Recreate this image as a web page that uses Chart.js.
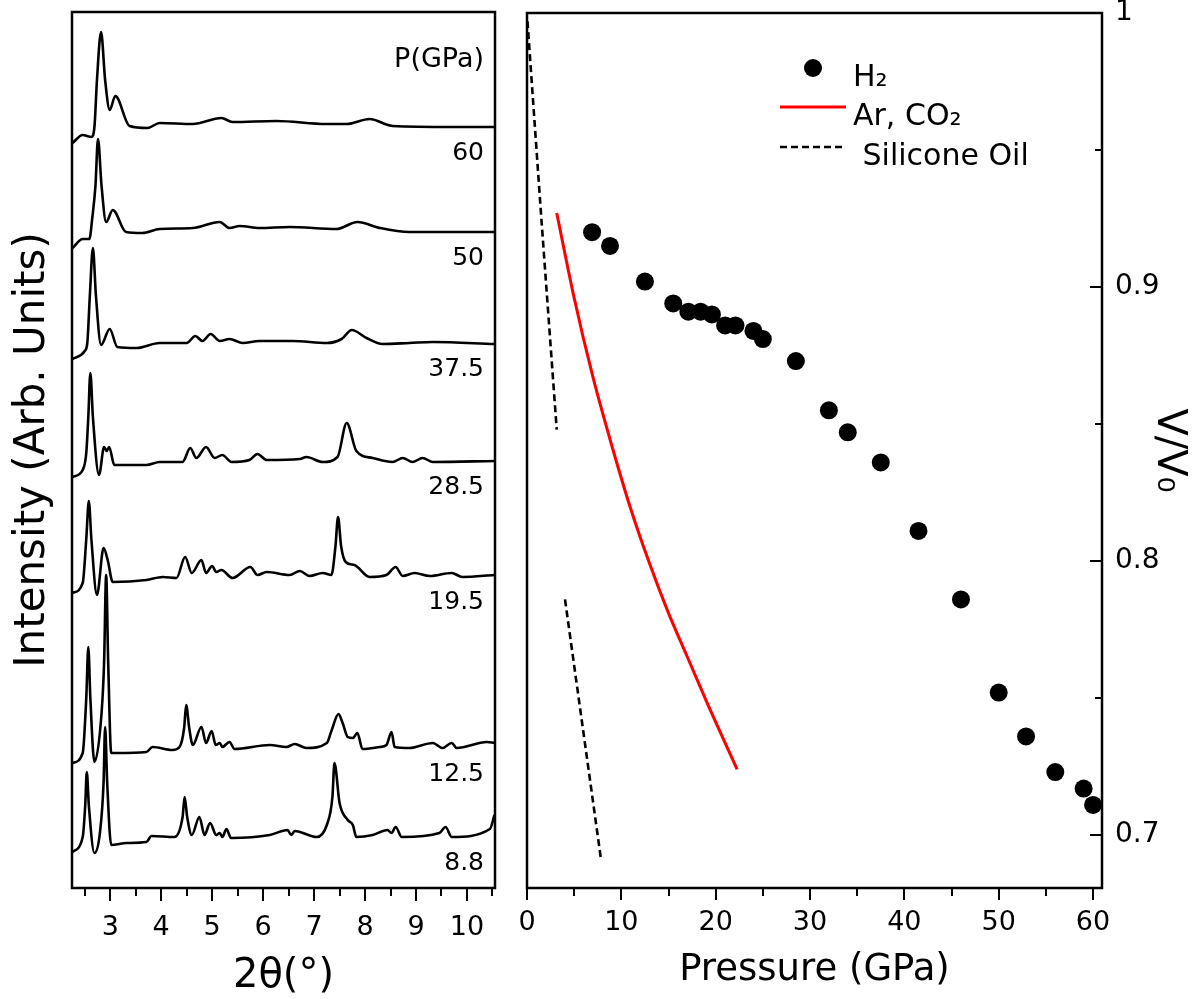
<!DOCTYPE html>
<html lang="en">

<head>
  <meta charset="UTF-8">
  <meta name="viewport" content="width=device-width, initial-scale=1.0">
  <script src="https://cdn.jsdelivr.net/npm/chart.js@4.4.0/dist/chart.umd.min.js"></script>
  <title>XRD patterns and V/V0 vs pressure</title>
  <style>
    body { margin: 0; background: #fff; }
    #wrap { position: relative; width: 1192px; height: 999px; }
    #xrdChart { position: absolute; left: 0; top: 0; }
    #eosChart { position: absolute; left: 510px; top: 0; }
  </style>
</head>

<body>
  <div id="wrap">
    <canvas id="xrdChart" width="510" height="999"></canvas>
    <canvas id="eosChart" width="682" height="999"></canvas>
  </div>
  <script>
    // ---- left panel: XRD patterns, [2theta, intensity above the trace baseline]
    const pressureLabels = ['60', '50', '37.5', '28.5', '19.5', '12.5', '8.8']
    const baselines = [761, 656, 545, 427, 312, 140, 51]
    const twoThetaTicks = [3, 4, 5, 6, 7, 8, 9, 10]

    const xrd60 = [[2.26, -16], [2.46, -8], [2.63, -10], [2.69, 0], [2.74, 47], [2.82, 95], [2.90, 47], [2.99, 17], [3.10, 31], [3.38, 1], [3.73, -1], [3.97, 4], [4.62, 3], [5.18, 9], [5.40, 5], [6.26, 6], [7.24, 3], [7.64, 3], [8.09, 8], [8.54, 1], [9.72, 0], [10.54, 0]]
    const xrd50 = [[2.26, -16], [2.46, -7], [2.59, -7], [2.65, 15], [2.71, 46], [2.76, 93], [2.83, 46], [2.92, 10], [3.05, 22], [3.31, 0], [3.63, -1], [3.97, 3], [4.62, 4], [5.15, 10], [5.34, 4], [5.54, 6], [5.93, 4], [6.52, 5], [7.44, 3], [7.85, 10], [8.29, 4], [8.87, 0], [10.54, 0]]
    const xrd375 = [[2.26, -16], [2.50, -8], [2.55, 0], [2.60, 47], [2.66, 95], [2.72, 47], [2.82, -2], [2.99, 14], [3.14, -4], [3.52, -5], [3.97, 0], [4.50, 0], [4.67, 7], [4.81, 2], [4.97, 9], [5.15, 2], [5.34, 4], [5.60, 0], [5.93, 2], [6.58, 2], [7.25, 0], [7.54, 4], [7.74, 13], [8.03, 5], [8.34, -1], [8.87, 0], [9.33, 1], [10.54, -1]]
    const xrd285 = [[2.26, -16], [2.46, -9], [2.53, 8], [2.57, 44], [2.61, 88], [2.66, 44], [2.78, -14], [2.88, 14], [2.93, 10], [2.98, 14], [3.08, -4], [3.71, -4], [3.97, -1], [4.42, -1], [4.57, 13], [4.69, 3], [4.88, 14], [5.05, 3], [5.20, 6], [5.38, -1], [5.73, 1], [5.89, 7], [6.07, 1], [6.72, 2], [6.85, 4], [7.17, -1], [7.46, 4], [7.64, 38], [7.83, 10], [8.15, 3], [8.54, -1], [8.74, 3], [8.93, -1], [9.13, 3], [9.33, -1], [10.54, 0]]
    const xrd195 = [[2.26, -17], [2.46, -7], [2.53, 37], [2.58, 75], [2.63, 37], [2.74, -19], [2.87, 28], [2.95, 16], [3.05, -6], [3.71, -4], [4.03, -1], [4.30, -2], [4.47, 19], [4.60, 3], [4.79, 16], [4.88, 3], [5.00, 10], [5.08, 4], [5.18, 6], [5.40, -2], [5.75, 9], [5.89, 1], [6.07, 4], [6.52, 1], [6.72, 5], [6.91, 0], [7.17, 3], [7.34, 1], [7.42, 30], [7.47, 59], [7.53, 30], [7.62, 14], [7.79, 11], [8.09, -1], [8.42, 1], [8.60, 9], [8.74, 0], [8.97, 3], [9.27, 0], [9.70, 3], [9.91, -1], [10.54, 1]]
    const xrd125 = [[2.26, -15], [2.46, -5], [2.53, 50], [2.57, 101], [2.61, 50], [2.69, -14], [2.83, 35], [2.88, 86], [2.92, 173], [2.96, 86], [3.02, -5], [3.12, -5], [3.71, -4], [3.83, 1], [4.22, -2], [4.36, 1], [4.45, 20], [4.49, 43], [4.55, 20], [4.62, 3], [4.79, 21], [4.88, 5], [4.99, 17], [5.07, 3], [5.15, 5], [5.20, 1], [5.34, 6], [5.44, -1], [6.13, 3], [6.46, 1], [6.62, 4], [6.85, 0], [7.25, 5], [7.34, 17], [7.48, 34], [7.56, 25], [7.66, 11], [7.76, 10], [7.85, 15], [7.95, -1], [8.29, 1], [8.42, 3], [8.52, 16], [8.58, 1], [8.87, 0], [9.33, 5], [9.52, 0], [9.70, 5], [9.80, 0], [10.39, 6], [10.54, 5]]
    const xrd88 = [[2.26, -15], [2.46, 0], [2.51, 32], [2.54, 65], [2.58, 32], [2.69, -16], [2.80, 5], [2.87, 55], [2.90, 110], [2.94, 55], [3.02, -8], [3.32, -6], [3.71, -5], [3.81, 1], [4.26, 0], [4.42, 20], [4.46, 40], [4.51, 20], [4.60, 2], [4.75, 20], [4.85, 2], [4.96, 14], [5.08, 2], [5.15, 4], [5.20, 0], [5.28, 8], [5.37, -1], [6.13, 2], [6.48, 7], [6.55, 2], [6.62, 6], [7.05, 0], [7.25, 12], [7.36, 40], [7.40, 74], [7.50, 34], [7.66, 17], [7.76, 12], [7.83, 0], [8.15, 2], [8.44, 7], [8.52, 4], [8.60, 10], [8.72, 0], [9.46, 4], [9.58, 10], [9.70, 0], [10.45, 8], [10.54, 22]]
    const xrdPatterns = [xrd60, xrd50, xrd375, xrd285, xrd195, xrd125, xrd88]

    // ---- right panel: V/V0 vs pressure
    const pressureH2 = [6.9, 8.8, 12.5, 15.5, 17.1, 18.4, 19.6, 21.0, 22.1, 24.0, 25.0, 28.5, 32.0, 34.0, 37.5, 41.5, 46.0, 50.0, 52.9, 56.0, 59.0, 60.0]
    const volumeH2 = [0.920, 0.915, 0.902, 0.894, 0.891, 0.891, 0.890, 0.886, 0.886, 0.884, 0.881, 0.873, 0.855, 0.847, 0.836, 0.811, 0.786, 0.752, 0.736, 0.723, 0.717, 0.711]
    const pressureArCO2 = [3.15, 5, 7, 9, 11, 13, 15, 17, 19, 22.27]
    const volumeArCO2 = [0.927, 0.896, 0.867, 0.842, 0.819, 0.799, 0.781, 0.765, 0.749, 0.724]
    const pressureOil = [0.05, 1.5, 3.15, 3.6, 4.03, 7.85]
    const volumeOil = [0.997, 0.926, 0.848, null, 0.786, 0.691]
    const pressureTicks = [0, 10, 20, 30, 40, 50, 60]
    const volumeTicks = [0.7, 0.8, 0.9, 1]

    const FONT = 'DejaVu Sans'

    // frame around the plot area plus major / minor tick marks
    const tickMarks = {
      id: 'tickMarks',
      afterDraw(chart, args, opts) {
        const { ctx, chartArea } = chart
        ctx.save()
        ctx.strokeStyle = '#000'
        ctx.lineWidth = 2
        ctx.beginPath()
        opts.sets.forEach(s => {
          const scale = chart.scales[s.axis]
          for (let v = s.from; v <= s.to + 1e-6; v += s.step) {
            const p = Math.round(scale.getPixelForValue(v))
            if (s.side === 'bottom') {
              ctx.moveTo(p, chartArea.bottom)
              ctx.lineTo(p, chartArea.bottom + s.len)
            } else {
              ctx.moveTo(chartArea.right, p)
              ctx.lineTo(chartArea.right - s.len, p)
            }
          }
        })
        ctx.stroke()
        ctx.lineWidth = 2.5
        ctx.strokeRect(chartArea.left, chartArea.top, chartArea.right - chartArea.left, chartArea.bottom - chartArea.top)
        ctx.restore()
      }
    }

    // pressure written under the right end of each pattern
    const traceLabels = {
      id: 'traceLabels',
      afterDatasetsDraw(chart, args, opts) {
        const { ctx, chartArea, scales } = chart
        ctx.save()
        ctx.fillStyle = '#000'
        ctx.textAlign = 'right'
        ctx.textBaseline = 'middle'
        ctx.font = opts.font
        opts.labels.forEach((t, i) => {
          ctx.fillText(t, chartArea.right + opts.dx, scales.y.getPixelForValue(opts.baselines[i]) + opts.dy)
        })
        ctx.font = opts.titleFont
        ctx.fillText(opts.title, chartArea.right + opts.dx, chartArea.top + opts.titleDy)
        ctx.restore()
      }
    }

    // legend sitting inside the plot area
    const insetLegend = {
      id: 'insetLegend',
      afterDraw(chart, args, opts) {
        const { ctx, chartArea } = chart
        ctx.save()
        ctx.font = opts.font
        chart.data.datasets.forEach((ds, i) => {
          const y = chartArea.top + opts.rows[i]
          const x0 = chartArea.left + opts.symbolLeft
          const x1 = x0 + opts.symbolWidth
          ctx.save()
          if (ds.showLine === false) {
            ctx.fillStyle = ds.backgroundColor
            ctx.beginPath()
            ctx.arc((x0 + x1) / 2, y, ds.pointRadius, 0, Math.PI * 2)
            ctx.fill()
          } else {
            ctx.strokeStyle = ds.borderColor
            ctx.lineWidth = ds.borderWidth
            ctx.setLineDash(ds.borderDash || [])
            ctx.beginPath()
            ctx.moveTo(x0, y)
            ctx.lineTo(x1, y)
            ctx.stroke()
          }
          ctx.restore()
          ctx.fillStyle = '#000'
          ctx.fillText(ds.label, chartArea.left + opts.textLeft, y + opts.textDrop)
        })
        ctx.restore()
      }
    }

    // fixed axis sizes, no extra room for overhanging tick labels
    const fixX = h => s => { s.height = h; s.paddingLeft = 0; s.paddingRight = 0 }
    const fixY = w => s => { s.width = w; s.paddingTop = 0; s.paddingBottom = 0 }

    new Chart(document.getElementById('xrdChart'), {
      type: 'line',
      data: {
        datasets: xrdPatterns.map((pts, i) => ({
          label: pressureLabels[i] + ' GPa',
          data: pts.map(p => ({ x: p[0], y: p[1] + baselines[i] })),
          borderColor: '#000',
          borderWidth: 2.6,
          pointRadius: 0,
          cubicInterpolationMode: 'monotone',
          fill: false
        }))
      },
      plugins: [tickMarks, traceLabels],
      options: {
        responsive: false,
        animation: false,
        devicePixelRatio: 1,
        layout: { padding: { top: 12, right: 15, left: 0, bottom: 0 }, autoPadding: false },
        plugins: {
          legend: { display: false },
          tooltip: { enabled: false },
          tickMarks: {
            sets: [
              { axis: 'x', from: 3, to: 10, step: 1, len: 13, side: 'bottom' },
              { axis: 'x', from: 2.5, to: 10.5, step: 1, len: 8, side: 'bottom' }
            ]
          },
          traceLabels: {
            labels: pressureLabels,
            baselines: baselines,
            font: '25px "DejaVu Sans"',
            dx: -11,
            dy: 26,
            title: 'P(GPa)',
            titleFont: '27px "DejaVu Sans"',
            titleDy: 48
          }
        },
        scales: {
          x: {
            type: 'linear',
            min: 2.25,
            max: 10.55,
            afterBuildTicks: s => { s.ticks = twoThetaTicks.map(v => ({ value: v })) },
            afterFit: fixX(111),
            grid: { display: false, drawTicks: false },
            border: { display: false },
            ticks: { color: '#000', padding: 24, maxRotation: 0, font: { family: FONT, size: 27 } },
            title: { display: true, text: '2θ(°)', color: '#000', padding: { top: 0, bottom: 2 }, font: { family: FONT, size: 40, lineHeight: 1 } }
          },
          y: {
            min: 0,
            max: 876,
            afterFit: fixY(72),
            grid: { display: false, drawTicks: false },
            border: { display: false },
            ticks: { display: false },
            title: { display: true, text: 'Intensity (Arb. Units)', color: '#000', padding: { top: 8, bottom: 0 }, font: { family: FONT, size: 42 } }
          }
        }
      }
    })

    new Chart(document.getElementById('eosChart'), {
      type: 'scatter',
      data: {
        datasets: [
          {
            label: 'H₂',
            data: pressureH2.map((p, i) => ({ x: p, y: volumeH2[i] })),
            showLine: false,
            pointRadius: 9,
            pointBorderWidth: 0,
            backgroundColor: '#000',
            borderColor: '#000',
            clip: false
          },
          {
            label: 'Ar, CO₂',
            data: pressureArCO2.map((p, i) => ({ x: p, y: volumeArCO2[i] })),
            showLine: true,
            borderColor: '#ff0000',
            backgroundColor: '#ff0000',
            borderWidth: 3,
            pointRadius: 0,
            cubicInterpolationMode: 'monotone'
          },
          {
            label: ' Silicone Oil',
            data: pressureOil.map((p, i) => ({ x: p, y: volumeOil[i] })),
            showLine: true,
            spanGaps: false,
            borderColor: '#000',
            backgroundColor: '#000',
            borderWidth: 2.6,
            borderDash: [7, 4],
            pointRadius: 0
          }
        ]
      },
      plugins: [tickMarks, insetLegend],
      options: {
        responsive: false,
        animation: false,
        devicePixelRatio: 1,
        layout: { padding: { top: 13, right: 0, left: 17, bottom: 0 }, autoPadding: false },
        plugins: {
          legend: { display: false },
          tooltip: { enabled: false },
          tickMarks: {
            sets: [
              { axis: 'x', from: 0, to: 60, step: 10, len: 12, side: 'bottom' },
              { axis: 'x', from: 5, to: 55, step: 10, len: 8, side: 'bottom' },
              { axis: 'y', from: 0.7, to: 1.0, step: 0.1, len: 12, side: 'right' },
              { axis: 'y', from: 0.75, to: 0.95, step: 0.1, len: 7, side: 'right' }
            ]
          },
          insetLegend: {
            font: '30px "DejaVu Sans"',
            rows: [55, 94, 134],
            symbolLeft: 253,
            symbolWidth: 66,
            textLeft: 326,
            textDrop: 18
          }
        },
        scales: {
          x: {
            type: 'linear',
            min: 0,
            max: 60.95,
            afterBuildTicks: s => { s.ticks = pressureTicks.map(v => ({ value: v })) },
            afterFit: fixX(111),
            grid: { display: false, drawTicks: false },
            border: { display: false },
            ticks: { color: '#000', padding: 19, maxRotation: 0, font: { family: FONT, size: 27 } },
            title: { display: true, text: 'Pressure (GPa)', color: '#000', padding: { top: 0, bottom: 10 }, font: { family: FONT, size: 37, lineHeight: 1 } }
          },
          y: {
            position: 'right',
            min: 0.6807,
            max: 1.0,
            afterBuildTicks: s => { s.ticks = volumeTicks.map(v => ({ value: v })) },
            afterFit: fixY(90),
            grid: { display: false, drawTicks: false },
            border: { display: false },
            ticks: { color: '#000', padding: 13, font: { family: FONT, size: 28 }, callback: v => String(Number(v.toFixed(2))) },
            title: { display: true, text: 'V/V₀', color: '#000', padding: { top: 0, bottom: 0 }, font: { family: FONT, size: 40 } }
          }
        }
      }
    })
  </script>
</body>

</html>
